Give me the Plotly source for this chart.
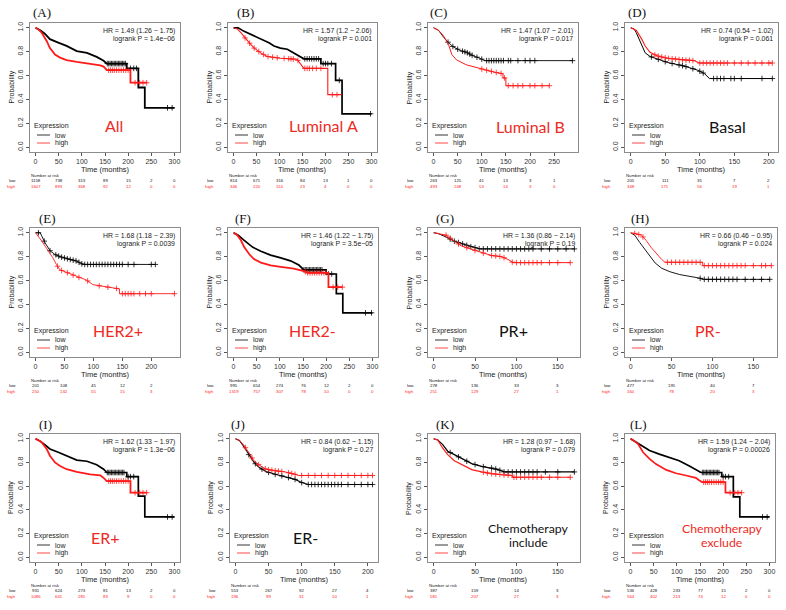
import plotly.graph_objects as go

W, H = 786, 610

# ---------------- data ----------------
panel_letters = ["(A)", "(B)", "(C)", "(D)", "(E)", "(F)", "(G)", "(H)", "(I)", "(J)", "(K)", "(L)"]
group_names = ["All", "Luminal A", "Luminal B", "Basal", "HER2+", "HER2-", "PR+", "PR-",
               "ER+", "ER-", "Chemotherapy<br>include", "Chemotherapy<br>exclude"]
hr_text = ["HR = 1.49 (1.26 − 1.75)", "HR = 1.57 (1.2 − 2.06)", "HR = 1.47 (1.07 − 2.01)",
           "HR = 0.74 (0.54 − 1.02)", "HR = 1.68 (1.18 − 2.39)", "HR = 1.46 (1.22 − 1.75)",
           "HR = 1.36 (0.86 − 2.14)", "HR = 0.66 (0.46 − 0.95)", "HR = 1.62 (1.33 − 1.97)",
           "HR = 0.84 (0.62 − 1.15)", "HR = 1.28 (0.97 − 1.68)", "HR = 1.59 (1.24 − 2.04)"]
p_text = ["logrank P = 1.4e−06", "logrank P = 0.001", "logrank P = 0.017", "logrank P = 0.061",
          "logrank P = 0.0039", "logrank P = 3.5e−05", "logrank P = 0.19", "logrank P = 0.024",
          "logrank P = 1.3e−06", "logrank P = 0.27", "logrank P = 0.079", "logrank P = 0.00026"]

x_ticks_300 = [0, 50, 100, 150, 200, 250, 300]
x_ticks_250 = [0, 50, 100, 150, 200, 250]
x_ticks_200 = [0, 50, 100, 150, 200]
x_ticks_150 = [0, 50, 100, 150]
y_ticks = [0.0, 0.2, 0.4, 0.6, 0.8, 1.0]

# (A) All
a_low_t = [0, 10, 20, 31, 49, 67, 89, 111, 132, 147, 154, 197, 197, 222, 222, 236, 236, 300]
a_low_s = [1, 0.98, 0.95, 0.905, 0.876, 0.848, 0.805, 0.79, 0.756, 0.724, 0.70, 0.70, 0.66, 0.66, 0.50, 0.50, 0.33, 0.33]
a_low_c = [155, 158, 161, 164, 167, 170, 173, 176, 179, 182, 185, 188, 191, 194, 205, 212, 218, 285, 295]
a_high_t = [0, 5, 13, 24, 31, 42, 53, 67, 89, 118, 140, 147, 154, 205, 205, 240]
a_high_s = [1, 0.99, 0.96, 0.89, 0.83, 0.775, 0.75, 0.73, 0.715, 0.70, 0.685, 0.675, 0.645, 0.645, 0.54, 0.54]
a_high_c = [158, 162, 166, 170, 175, 180, 185, 190, 195, 200, 215, 225, 232, 240]
a_risk_low = [1158, 738, 313, 89, 15, 2, 0]
a_risk_high = [1607, 893, 368, 92, 12, 0, 0]

# (B) Luminal A
b_low_t = [0, 10, 23, 41, 59, 77, 88, 102, 117, 131, 145, 153, 190, 190, 222, 222, 236, 236, 300]
b_low_s = [1, 1, 0.97, 0.94, 0.91, 0.875, 0.847, 0.83, 0.82, 0.79, 0.76, 0.74, 0.74, 0.70, 0.70, 0.56, 0.56, 0.28, 0.28]
b_low_c = [155, 160, 165, 170, 175, 180, 185, 195, 200, 205, 213, 230, 298]
b_high_t = [0, 8, 16, 27, 34, 45, 59, 73, 102, 138, 145, 153, 205, 205, 235]
b_high_s = [1, 0.99, 0.96, 0.905, 0.875, 0.83, 0.79, 0.76, 0.745, 0.737, 0.70, 0.66, 0.66, 0.44, 0.44]
b_high_c = [25, 35, 45, 55, 65, 75, 85, 95, 110, 120, 125, 130, 140, 155, 160, 165, 172, 180, 190, 215, 225]
b_risk_low = [814, 671, 316, 84, 13, 1, 0]
b_risk_high = [346, 220, 114, 23, 4, 0, 0]

# (C) Luminal B
c_low_t = [0, 5, 10, 21, 31, 41, 55, 68, 82, 96, 106, 288]
c_low_s = [1, 0.99, 0.98, 0.92, 0.875, 0.84, 0.81, 0.795, 0.765, 0.745, 0.725, 0.725]
c_low_c = [30, 40, 50, 60, 65, 70, 75, 80, 90, 100, 110, 115, 120, 125, 130, 135, 140, 145, 155, 160, 175, 190, 200, 210, 288]
c_high_t = [0, 10, 21, 31, 38, 48, 68, 89, 110, 130, 144, 144, 150, 150, 240]
c_high_s = [1, 0.98, 0.93, 0.86, 0.775, 0.73, 0.69, 0.665, 0.645, 0.625, 0.615, 0.58, 0.58, 0.515, 0.515]
c_high_c = [100, 110, 120, 130, 140, 147, 155, 165, 175, 185, 200, 210, 225, 240]
c_risk_low = [263, 125, 41, 13, 3, 1]
c_risk_high = [493, 248, 53, 14, 3, 0]

# (D) Basal
d_low_t = [0, 5, 8, 16, 21, 28, 38, 53, 77, 97, 107, 114, 205]
d_low_s = [1, 0.99, 0.96, 0.86, 0.79, 0.76, 0.74, 0.71, 0.68, 0.645, 0.615, 0.575, 0.575]
d_low_c = [30, 40, 50, 60, 70, 75, 80, 90, 100, 105, 120, 125, 130, 135, 145, 150, 160, 190, 205]
d_high_t = [0, 5, 8, 16, 21, 28, 38, 53, 77, 92, 99, 205]
d_high_s = [1, 0.99, 0.98, 0.905, 0.847, 0.795, 0.765, 0.745, 0.73, 0.725, 0.705, 0.705]
d_high_c = [35, 40, 45, 50, 55, 60, 65, 70, 75, 80, 85, 90, 100, 105, 110, 115, 120, 125, 130, 135, 140, 150, 160, 170, 180, 190, 200, 205]
d_risk_low = [205, 111, 35, 7, 2]
d_risk_high = [348, 171, 56, 19, 1]

# (E) HER2+
e_low_t = [0, 8, 10, 16, 25, 33, 42, 53, 71, 82, 207]
e_low_s = [1, 1, 0.98, 0.92, 0.85, 0.82, 0.80, 0.785, 0.763, 0.735, 0.735]
e_low_c = [5, 15, 25, 35, 40, 45, 50, 55, 60, 65, 70, 75, 80, 85, 90, 95, 100, 105, 110, 115, 120, 125, 130, 135, 140, 145, 150, 160, 170, 200, 207]
e_high_t = [0, 5, 10, 19, 30, 36, 42, 53, 71, 88, 99, 111, 134, 145, 145, 240]
e_high_s = [1, 0.97, 0.935, 0.87, 0.79, 0.735, 0.69, 0.67, 0.633, 0.604, 0.566, 0.555, 0.538, 0.53, 0.49, 0.49]
e_high_c = [38, 45, 55, 65, 75, 90, 110, 125, 140, 150, 155, 160, 165, 170, 180, 190, 200, 240]
e_risk_low = [201, 108, 45, 12, 2]
e_risk_high = [250, 132, 55, 15, 3]

# (F) HER2-
f_low_t = [0, 10, 23, 41, 59, 80, 102, 123, 141, 152, 200, 200, 222, 222, 236, 236, 300]
f_low_s = [1, 0.98, 0.937, 0.88, 0.845, 0.813, 0.79, 0.765, 0.73, 0.69, 0.69, 0.655, 0.655, 0.49, 0.49, 0.33, 0.33]
f_low_c = [152, 155, 158, 161, 164, 167, 170, 173, 176, 179, 182, 185, 188, 191, 205, 212, 285, 298]
f_high_t = [0, 8, 16, 23, 34, 44, 59, 80, 102, 130, 152, 160, 205, 205, 235]
f_high_s = [1, 0.98, 0.937, 0.88, 0.82, 0.78, 0.75, 0.727, 0.715, 0.70, 0.68, 0.665, 0.665, 0.545, 0.545]
f_high_c = [155, 160, 165, 170, 175, 180, 185, 190, 195, 200, 215, 225, 235]
f_risk_low = [995, 654, 274, 76, 12, 2, 0]
f_risk_high = [1319, 757, 307, 78, 10, 0, 0]

# (G) PR+
g_low_t = [0, 5, 15, 25, 35, 45, 56, 170]
g_low_s = [1, 0.995, 0.965, 0.93, 0.907, 0.884, 0.865, 0.865]
g_low_c = [20, 25, 30, 35, 40, 45, 50, 55, 60, 65, 70, 75, 80, 85, 90, 95, 100, 105, 110, 115, 120, 130, 140, 150, 160, 170]
g_high_t = [0, 5, 15, 25, 33, 45, 58, 70, 82, 90, 96, 165]
g_high_s = [1, 0.995, 0.98, 0.93, 0.892, 0.863, 0.834, 0.81, 0.80, 0.776, 0.75, 0.75]
g_high_c = [15, 20, 30, 40, 50, 60, 70, 75, 80, 85, 95, 100, 105, 110, 115, 120, 125, 130, 140, 150, 165]
g_risk_low = [278, 136, 33, 3]
g_risk_high = [251, 129, 27, 1]

# (H) PR-
h_low_t = [0, 5, 11, 17, 23, 30, 38, 48, 60, 73, 83, 90, 170]
h_low_s = [1, 0.98, 0.92, 0.863, 0.805, 0.747, 0.703, 0.674, 0.65, 0.637, 0.622, 0.61, 0.61]
h_low_c = [85, 90, 95, 100, 105, 110, 115, 120, 125, 130, 140, 150, 160, 170]
h_high_t = [0, 5, 13, 19, 25, 32, 38, 42, 88, 88, 172]
h_high_s = [1, 0.995, 0.98, 0.936, 0.878, 0.82, 0.776, 0.753, 0.753, 0.725, 0.725]
h_high_c = [5, 10, 15, 45, 50, 55, 60, 65, 70, 75, 80, 85, 90, 95, 100, 105, 110, 115, 120, 125, 130, 135, 140, 150, 160, 165, 172]
h_risk_low = [477, 195, 40, 7]
h_risk_high = [160, 78, 20, 3]

# (I) ER+
i_low_t = [0, 10, 20, 31, 49, 67, 89, 111, 132, 147, 154, 197, 197, 222, 222, 236, 236, 300]
i_low_s = [1, 0.98, 0.95, 0.914, 0.886, 0.857, 0.82, 0.81, 0.78, 0.743, 0.715, 0.715, 0.68, 0.68, 0.515, 0.515, 0.34, 0.34]
i_low_c = [155, 158, 161, 164, 167, 170, 173, 176, 179, 182, 185, 188, 191, 200, 205, 212, 285, 295]
i_high_t = [0, 5, 13, 24, 31, 42, 53, 67, 89, 118, 140, 147, 154, 205, 205, 240]
i_high_s = [1, 0.99, 0.97, 0.914, 0.857, 0.80, 0.77, 0.743, 0.72, 0.70, 0.69, 0.67, 0.643, 0.643, 0.545, 0.545]
i_high_c = [158, 162, 166, 170, 175, 180, 185, 190, 195, 200, 215, 225, 232, 240]
i_risk_low = [931, 624, 273, 81, 13, 2, 0]
i_risk_high = [1086, 641, 285, 83, 9, 0, 0]

# (J) ER-
j_low_t = [0, 6, 13, 21, 28, 36, 46, 60, 75, 90, 100, 110, 207]
j_low_s = [1, 0.985, 0.93, 0.857, 0.80, 0.757, 0.723, 0.70, 0.68, 0.657, 0.63, 0.614, 0.614]
j_low_c = [20, 30, 40, 50, 60, 70, 80, 90, 100, 110, 115, 120, 125, 130, 135, 140, 145, 150, 155, 160, 170, 180, 190, 200, 207]
j_high_t = [0, 6, 13, 21, 28, 36, 46, 60, 75, 90, 95, 207]
j_high_s = [1, 0.985, 0.943, 0.87, 0.814, 0.777, 0.743, 0.73, 0.72, 0.70, 0.69, 0.69]
j_high_c = [15, 25, 35, 45, 50, 55, 60, 65, 70, 80, 85, 90, 100, 110, 120, 130, 140, 150, 160, 170, 180, 190, 200, 207]
j_risk_low = [553, 267, 92, 27, 4]
j_risk_high = [196, 99, 31, 10, 1]

# (K) Chemotherapy include
k_low_t = [0, 5, 11, 17, 25, 36, 46, 58, 70, 78, 85, 170]
k_low_s = [1, 0.99, 0.95, 0.895, 0.866, 0.824, 0.79, 0.767, 0.753, 0.74, 0.72, 0.72]
k_low_c = [20, 30, 40, 50, 60, 70, 75, 80, 85, 90, 95, 100, 105, 110, 115, 120, 125, 135, 150, 170]
k_high_t = [0, 5, 11, 17, 25, 36, 46, 58, 70, 83, 93, 95, 95, 165]
k_high_s = [1, 0.99, 0.92, 0.866, 0.815, 0.773, 0.74, 0.72, 0.705, 0.696, 0.69, 0.69, 0.675, 0.675]
k_high_c = [60, 65, 70, 75, 80, 85, 90, 97, 100, 105, 110, 115, 120, 125, 130, 140, 150, 165]
k_risk_low = [387, 159, 14, 3]
k_risk_high = [581, 207, 27, 3]

# (L) Chemotherapy exclude
l_low_t = [0, 12, 23, 41, 62, 84, 105, 127, 141, 152, 197, 197, 222, 222, 236, 236, 300]
l_low_s = [1, 0.97, 0.943, 0.90, 0.87, 0.843, 0.814, 0.77, 0.743, 0.715, 0.715, 0.68, 0.68, 0.51, 0.51, 0.34, 0.34]
l_low_c = [155, 158, 161, 164, 167, 170, 173, 176, 179, 182, 185, 188, 191, 200, 205, 212, 285, 295]
l_high_t = [0, 5, 16, 27, 41, 55, 77, 98, 120, 141, 148, 155, 205, 205, 240]
l_high_s = [1, 0.99, 0.957, 0.886, 0.83, 0.786, 0.737, 0.709, 0.69, 0.67, 0.65, 0.634, 0.634, 0.545, 0.545]
l_high_c = [158, 162, 166, 170, 175, 180, 185, 190, 195, 200, 215, 225, 232, 240]
l_risk_low = [536, 428, 233, 77, 15, 2, 0]
l_risk_high = [564, 402, 213, 74, 12, 0, 0]

# ---------------- assemble ----------------
low_t = [a_low_t, b_low_t, c_low_t, d_low_t, e_low_t, f_low_t, g_low_t, h_low_t, i_low_t, j_low_t, k_low_t, l_low_t]
low_s = [a_low_s, b_low_s, c_low_s, d_low_s, e_low_s, f_low_s, g_low_s, h_low_s, i_low_s, j_low_s, k_low_s, l_low_s]
low_c = [a_low_c, b_low_c, c_low_c, d_low_c, e_low_c, f_low_c, g_low_c, h_low_c, i_low_c, j_low_c, k_low_c, l_low_c]
high_t = [a_high_t, b_high_t, c_high_t, d_high_t, e_high_t, f_high_t, g_high_t, h_high_t, i_high_t, j_high_t, k_high_t, l_high_t]
high_s = [a_high_s, b_high_s, c_high_s, d_high_s, e_high_s, f_high_s, g_high_s, h_high_s, i_high_s, j_high_s, k_high_s, l_high_s]
high_c = [a_high_c, b_high_c, c_high_c, d_high_c, e_high_c, f_high_c, g_high_c, h_high_c, i_high_c, j_high_c, k_high_c, l_high_c]
risk_low = [a_risk_low, b_risk_low, c_risk_low, d_risk_low, e_risk_low, f_risk_low, g_risk_low, h_risk_low, i_risk_low, j_risk_low, k_risk_low, l_risk_low]
risk_high = [a_risk_high, b_risk_high, c_risk_high, d_risk_high, e_risk_high, f_risk_high, g_risk_high, h_risk_high, i_risk_high, j_risk_high, k_risk_high, l_risk_high]
x_ticks = [x_ticks_300, x_ticks_300, x_ticks_250, x_ticks_200, x_ticks_200, x_ticks_300,
           x_ticks_150, x_ticks_150, x_ticks_300, x_ticks_200, x_ticks_150, x_ticks_300]

# ---------------- layout / style ----------------
boxes = [(30, 23, 180, 152), (228, 23, 377, 152), (428, 23, 578, 152), (625, 23, 778, 152),
         (30, 228, 180, 357), (228, 228, 378, 357), (428, 228, 580, 357), (625, 228, 777, 357),
         (30, 434, 180, 562), (230, 434, 378, 562), (428, 434, 580, 562), (625, 434, 775, 562)]
group_colors = ["#ee2a24", "#ee2a24", "#ee2a24", "#111111", "#ee2a24", "#ee2a24", "#111111", "#ee2a24",
                "#ee2a24", "#111111", "#111111", "#ee2a24"]
group_pos = [(114, 126), (323, 126), (530, 127), (727, 127), (118, 330), (312, 330), (513, 330), (708, 330),
             (105, 537), (305, 537), (528, 535), (722, 535)]
letter_pos = [(42, 13), (245, 13), (438, 13), (637, 13), (47, 218), (243, 218), (445, 218), (640, 218),
              (45, 424), (238, 424), (445, 424), (638, 424)]
low_w = [1.8, 1.7, 0.9, 1.0, 0.9, 1.7, 1.0, 0.9, 1.7, 1.1, 1.2, 1.7]
high_w = [1.8, 1.1, 1.0, 1.1, 0.9, 1.8, 1.0, 0.9, 1.8, 1.0, 1.2, 1.7]

RED = "#ff1a1a"
BLACK = "#000000"
SANS = "Liberation Sans"
NAR = 4.3


def px(x):
    return x / W


def py(y):
    return 1 - y / H


def on_curve(ts, ss, tc):
    for k in range(len(ts) - 1):
        t0, t1 = ts[k], ts[k + 1]
        if t0 < t1 and t0 <= tc <= t1:
            return ss[k] + (ss[k + 1] - ss[k]) * (tc - t0) / (t1 - t0)
    return ss[-1]


fig = go.Figure()
annotations = []
shapes = []


def txt(x, y, text, size, color="#222222", xanchor="center", yanchor="middle", family=SANS,
        xref="paper", yref="paper", angle=0):
    annotations.append(dict(x=x, y=y, xref=xref, yref=yref, text=text, showarrow=False,
                            xanchor=xanchor, yanchor=yanchor, textangle=angle,
                            font=dict(size=size, color=color, family=family),
                            borderpad=0, bgcolor="rgba(0,0,0,0)"))


for i in range(12):
    n = i + 1
    xa = "xaxis" if n == 1 else f"xaxis{n}"
    ya = "yaxis" if n == 1 else f"yaxis{n}"
    xr = "x" if n == 1 else f"x{n}"
    yr = "y" if n == 1 else f"y{n}"
    l, t, r, b = boxes[i]
    xmax = max(low_t[i][-1], high_t[i][-1])

    for ts, ss, cs, col, w in [(low_t[i], low_s[i], low_c[i], BLACK, low_w[i]),
                               (high_t[i], high_s[i], high_c[i], RED, high_w[i])]:
        fig.add_trace(go.Scatter(x=ts, y=ss, mode="lines", xaxis=xr, yaxis=yr,
                                 line=dict(color=col, width=w), hoverinfo="skip", showlegend=False))
        fig.add_trace(go.Scatter(x=cs, y=[on_curve(ts, ss, c) for c in cs], mode="markers",
                                 xaxis=xr, yaxis=yr, hoverinfo="skip", showlegend=False,
                                 marker=dict(symbol="cross-thin", size=4,
                                             line=dict(color=col, width=0.8))))

    fig.layout[xa] = dict(domain=[px(l), px(r)], anchor=yr, range=[-0.04 * xmax, 1.04 * xmax],
                          tickvals=x_ticks[i], ticktext=[str(v) for v in x_ticks[i]],
                          showgrid=False, zeroline=False, showline=True, mirror=True,
                          linecolor="#8c8c8c", linewidth=1, ticks="outside", ticklen=3,
                          tickcolor="#555555", tickwidth=0.8, automargin=False,
                          tickfont=dict(size=7, color="#333333", family=SANS))
    fig.layout[ya] = dict(domain=[py(b), py(t)], anchor=xr, range=[-0.04, 1.04],
                          tickvals=y_ticks, ticktext=[f"{v:.1f}" for v in y_ticks], tickangle=-90,
                          showgrid=False, zeroline=False, showline=True, mirror=True,
                          linecolor="#8c8c8c", linewidth=1, ticks="outside", ticklen=3,
                          tickcolor="#555555", tickwidth=0.8, automargin=False,
                          tickfont=dict(size=7, color="#333333", family=SANS))

    # panel letter
    lx, ly = letter_pos[i]
    txt(px(lx), py(ly), panel_letters[i], 13, color="#111111", family="Liberation Serif")
    # axis titles
    txt(px(l - 19), py((t + b) / 2), "Probability", 7, color="#222222", angle=-90)
    txt(px((l + r) / 2), py(b + 17), "Time (months)", 7.5, color="#222222")
    # HR / logrank
    txt(px(r - 4), py(t + 8), hr_text[i], 6.9, color="#222222", xanchor="right")
    txt(px(r - 4), py(t + 16), p_text[i], 6.9, color="#222222", xanchor="right")
    # legend
    txt(px(l + 3), py(b - 26), "Expression", 7, color="#222222", xanchor="left")
    for yy, col, lab in [(b - 17, BLACK, "low"), (b - 9, RED, "high")]:
        shapes.append(dict(type="line", xref="paper", yref="paper", x0=px(l + 7), x1=px(l + 20),
                           y0=py(yy), y1=py(yy), line=dict(color=col, width=0.8)))
        txt(px(l + 24), py(yy), lab, 7, color="#222222", xanchor="left")
    # group label
    gx, gy = group_pos[i]
    if "<br>" in group_names[i]:
        parts = group_names[i].split("<br>")
        txt(px(gx), py(gy - 7), parts[0], 12.3, color=group_colors[i], family="Lato")
        txt(px(gx), py(gy + 7), parts[1], 12.3, color=group_colors[i], family="Lato")
    else:
        txt(px(gx), py(gy), group_names[i], 16, color=group_colors[i], family="Lato")
    # number at risk
    txt(px(l), py(b + 23.5), "Number at risk", NAR, color="#222222", xanchor="left")
    txt(px(l - 13), py(b + 28.5), "low", NAR, color="#111111", xanchor="right")
    txt(px(l - 13), py(b + 34), "high", NAR, color=RED, xanchor="right")
    for tv, nl, nh in zip(x_ticks[i], risk_low[i], risk_high[i]):
        txt(tv, py(b + 28.5), str(nl), NAR, color="#111111", xref=xr)
        txt(tv, py(b + 34), str(nh), NAR, color=RED, xref=xr)

fig.update_layout(width=W, height=H, margin=dict(l=0, r=0, t=0, b=0),
                  paper_bgcolor="white", plot_bgcolor="white", showlegend=False,
                  font=dict(family=SANS), annotations=annotations, shapes=shapes)

fig.write_html("out.html", config={"displayModeBar": False},
               post_script="document.body.style.margin='0';document.body.style.padding='0';"
                           "document.documentElement.style.overflow='hidden';")
